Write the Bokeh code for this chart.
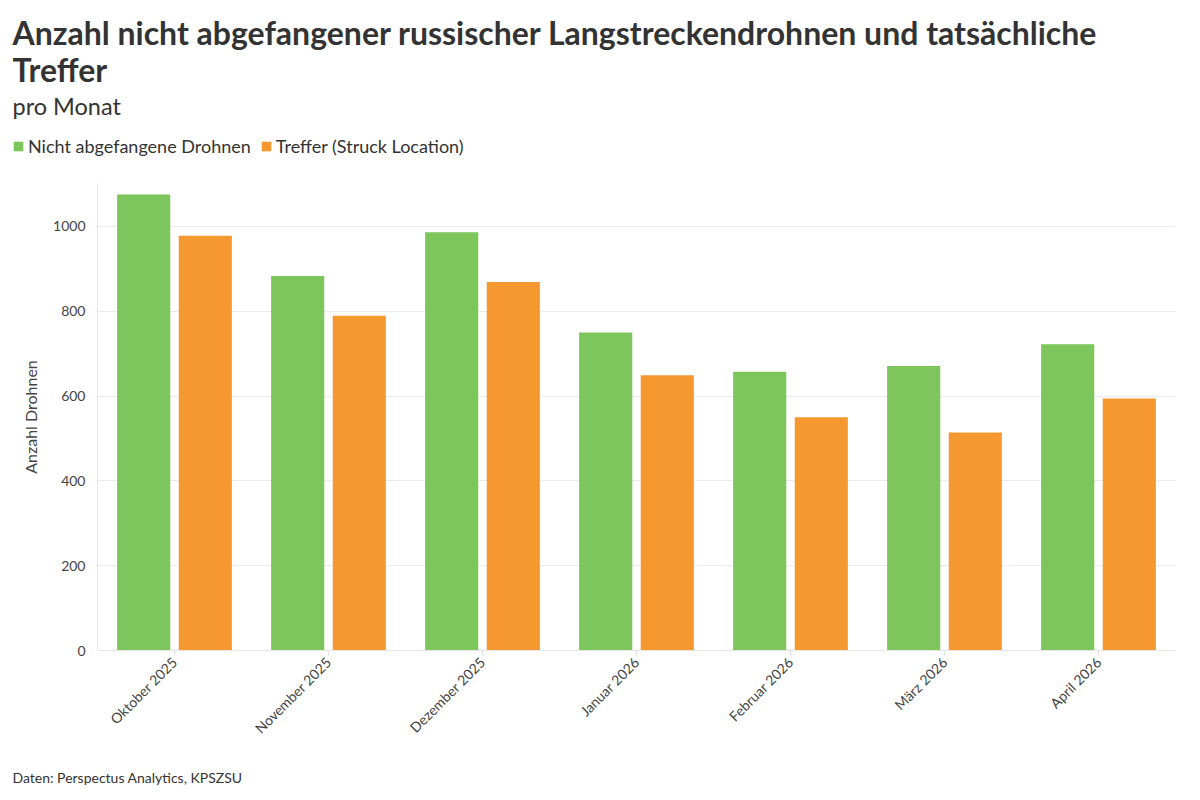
import math
from bokeh.plotting import figure
from bokeh.models import (FactorRange, Range1d, ColumnDataSource, Legend, LegendItem,
                          Title, Label)
from bokeh.transform import dodge
from bokeh.embed import file_html
from bokeh.resources import INLINE

months = ["Oktober 2025", "November 2025", "Dezember 2025", "Januar 2026",
          "Februar 2026", "März 2026", "April 2026"]
nicht_abgefangen = [1075, 883, 986, 750, 657, 671, 722]
treffer = [978, 789, 869, 649, 550, 514, 594]
y_ticks = [0, 200, 400, 600, 800, 1000]

title_line1 = "Anzahl nicht abgefangener russischer Langstreckendrohnen und tatsächliche"
title_line2 = "Treffer"
subtitle = "pro Monat"
source_text = "Daten: Perspectus Analytics, KPSZSU"
series_names = ["Nicht abgefangene Drohnen", "Treffer (Struck Location)"]
colors = ["#7CC65B", "#F5982F"]

FONT = "Lato"
TXT = "#333333"
W = 1200
HEAD_H = 170

src = ColumnDataSource(dict(month=months, a=nicht_abgefangen, b=treffer))

# ---------- header: titles + legend ----------
head = figure(width=W, height=HEAD_H, x_range=FactorRange(*months), y_range=Range1d(0, 1101),
              x_axis_type=None, y_axis_type=None, output_backend="svg",
              toolbar_location=None, title=None,
              min_border_left=0, min_border_right=0, min_border_top=0, min_border_bottom=0)
head.grid.visible = False
head.outline_line_color = None

def add_label(txt, center_from_top, size, style):
    head.add_layout(Label(x=12, y=HEAD_H - center_from_top, x_units="screen", y_units="screen",
                          text=txt, text_font=FONT, text_font_size=size, text_font_style=style,
                          text_color=TXT, text_baseline="middle", text_align="left"))

add_label(title_line1, 31.5, "32px", "bold")
add_label(title_line2, 68.5, "32px", "bold")
add_label(subtitle, 105, "23.5px", "normal")

# legend proxies (hidden renderers of the same data)
g1 = head.vbar(x="month", top="a", width=0.3, source=src, color=colors[0], line_color=None,
               visible=False)
g2 = head.vbar(x="month", top="b", width=0.3, source=src, color=colors[1], line_color=None,
               visible=False)
legend = Legend(items=[LegendItem(label=series_names[0], renderers=[g1]),
                       LegendItem(label=series_names[1], renderers=[g2])],
                orientation="horizontal", location=(12, 13))
legend.label_text_font = FONT
legend.label_text_font_size = "18px"
legend.label_text_color = TXT
legend.glyph_width = 12
legend.glyph_height = 12
legend.label_standoff = 4
legend.spacing = 9
legend.padding = 0
legend.margin = 0
legend.border_line_color = None
legend.background_fill_alpha = 0
legend.inactive_fill_alpha = 0
head.add_layout(legend, "center")

# ---------- main chart ----------
p = figure(x_range=FactorRange(*months, range_padding=0), y_range=Range1d(0, 1101),
           frame_width=1078, frame_height=467, output_backend="svg", toolbar_location=None,
           title=None, min_border_left=97, min_border_right=25,
           min_border_top=13, min_border_bottom=0)

p.vbar(x=dodge("month", -0.2, range=p.x_range), top="a", width=0.345, source=src,
       color=colors[0], line_color=None)
p.vbar(x=dodge("month", 0.2, range=p.x_range), top="b", width=0.345, source=src,
       color=colors[1], line_color=None)

p.outline_line_color = None
p.xgrid.grid_line_color = None
p.ygrid.grid_line_color = "#EBEBEB"
p.ygrid.grid_line_width = 1
p.yaxis.ticker = y_ticks

for ax in (p.xaxis[0], p.yaxis[0]):
    ax.major_label_text_font = FONT
    ax.major_label_text_font_size = "14px"
    ax.major_label_text_color = "#444444"
    ax.axis_line_color = "#E6E6E6"
    ax.minor_tick_line_color = None

p.yaxis.major_tick_line_color = None
p.yaxis.major_tick_out = 0
p.yaxis.major_tick_in = 0
p.yaxis.major_label_standoff = 12
p.yaxis.axis_label = "Anzahl Drohnen"
p.yaxis.axis_label_text_font = FONT
p.yaxis.axis_label_text_font_size = "16px"
p.yaxis.axis_label_text_font_style = "normal"
p.yaxis.axis_label_text_color = "#444444"
p.yaxis.axis_label_standoff = 10

p.xaxis.major_tick_line_color = "#E0E0E0"
p.xaxis.major_tick_in = 0
p.xaxis.major_tick_out = 5
p.xaxis.major_label_orientation = math.pi / 4
p.xaxis.major_label_standoff = 4

p.add_layout(Title(text=source_text, text_font=FONT, text_font_size="14px", text_font_style="normal",
                   text_color=TXT, align="left", offset=-85, standoff=42), "below")

open("out.html", "w").write(file_html([head, p], INLINE))
